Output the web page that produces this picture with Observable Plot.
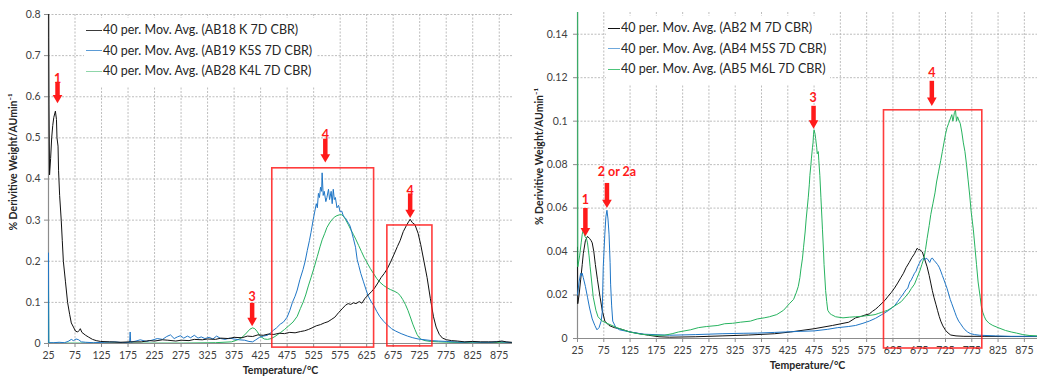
<!DOCTYPE html>
<html>
<head>
<meta charset="utf-8">
<script src="https://cdn.jsdelivr.net/npm/d3@7"></script>
<script src="https://cdn.jsdelivr.net/npm/@observablehq/plot@0.6"></script>
<style>
  html, body { margin: 0; padding: 0; background: #fff; overflow: hidden; }
  #wrap { position: relative; width: 1037px; height: 381px; overflow: hidden; }
  .panel { position: absolute; top: 0; height: 381px; }
  .panel svg { max-width: none !important; display: block; }
  .legend { position: absolute; background: #fff; font-family: Lato, "Open Sans", sans-serif; font-size: 12.5px; color: #262626; padding: 2px 4px 4px 2px; }
  .legend .row { height: 20.5px; line-height: 20.5px; white-space: nowrap; display: flex; align-items: center; }
  .legend .sw { display: inline-block; height: 1.2px; margin-right: 1px; }
</style>
</head>
<body>
<div id="wrap"></div>
<script>
// ---------- ticks ----------
const xTicks = [25, 75, 125, 175, 225, 275, 325, 375, 425, 475, 525, 575, 625, 675, 725, 775, 825, 875];
const yTicksLeft = [0, 0.1, 0.2, 0.3, 0.4, 0.5, 0.6, 0.7, 0.8];
const yTicksRight = [0, 0.02, 0.04, 0.06, 0.08, 0.1, 0.12, 0.14];

// ---------- left panel series [temperature °C, % derivative weight] ----------
const ab18K = [[25,1.2],[25.5,0.745],[26,0.58],[27,0.41],[29,0.45],[31,0.5],[33,0.53],[35,0.55],[38,0.565],[40,0.545],[41,0.5],[42,0.49],[43,0.48],[44,0.42],[46,0.36],[49,0.3],[51,0.25],[53,0.2],[57,0.15],[61,0.1],[65,0.07],[68,0.05],[72,0.04],[76,0.03],[80,0.028],[83,0.032],[85,0.036],[88,0.027],[95,0.02],[100,0.016],[108,0.01],[115,0.007],[123,0.005],[140,0.004],[160,0.003],[180,0.004],[200,0.004],[215,0.007],[225,0.006],[240,0.009],[250,0.008],[265,0.006],[275,0.008],[290,0.007],[300,0.01],[315,0.009],[325,0.011],[340,0.01],[350,0.013],[365,0.012],[375,0.015],[390,0.014],[400,0.018],[410,0.017],[420,0.021],[430,0.02],[440,0.023],[450,0.022],[460,0.025],[470,0.024],[480,0.027],[490,0.026],[500,0.029],[508,0.031],[515,0.034],[522,0.038],[530,0.043],[538,0.046],[545,0.05],[552,0.053],[558,0.058],[565,0.064],[572,0.075],[580,0.086],[585,0.093],[590,0.097],[595,0.095],[600,0.099],[605,0.097],[611,0.102],[616,0.098],[622,0.11],[628,0.118],[634,0.126],[640,0.135],[646,0.147],[652,0.16],[658,0.17],[664,0.182],[670,0.198],[676,0.215],[683,0.236],[688,0.25],[694,0.272],[700,0.287],[704,0.296],[707,0.302],[711,0.294],[716,0.289],[722,0.268],[727,0.24],[733,0.2],[739,0.16],[745,0.11],[751,0.065],[756,0.04],[762,0.022],[768,0.013],[776,0.009],[785,0.007],[796,0.006],[810,0.004],[825,0.005],[840,0.004],[855,0.004],[870,0.004],[880,0.006],[888,0.004],[898,0.003]];

const ab19K5S = [[25,0.22],[25.5,0.002],[35,0.002],[45,0.003],[55,0.002],[62,0.005],[68,0.01],[72,0.007],[77,0.011],[82,0.009],[87,0.004],[95,0.003],[110,0.002],[130,0.003],[150,0.004],[165,0.002],[178,0.003],[179,0.028],[180,0.003],[190,0.006],[198,0.009],[210,0.005],[220,0.008],[230,0.012],[240,0.01],[248,0.017],[255,0.021],[262,0.012],[268,0.016],[274,0.019],[280,0.013],[287,0.018],[293,0.014],[300,0.02],[307,0.013],[313,0.016],[320,0.012],[328,0.015],[335,0.011],[342,0.018],[350,0.012],[358,0.01],[366,0.013],[375,0.011],[385,0.009],[395,0.008],[403,0.005],[410,0.004],[416,0.009],[423,0.015],[430,0.018],[438,0.02],[444,0.026],[449,0.032],[455,0.038],[462,0.047],[468,0.052],[475,0.064],[480,0.08],[485,0.1],[490,0.115],[494,0.13],[499,0.155],[505,0.18],[509,0.2],[513,0.226],[517,0.25],[520,0.27],[524,0.3],[527,0.32],[530,0.34],[532,0.33],[534,0.365],[536,0.355],[538,0.38],[540,0.37],[541,0.415],[543,0.36],[545,0.37],[548,0.345],[550,0.355],[553,0.375],[555,0.35],[558,0.37],[560,0.34],[562,0.375],[564,0.35],[566,0.355],[569,0.33],[572,0.336],[575,0.32],[578,0.322],[581,0.31],[585,0.305],[588,0.298],[591,0.292],[594,0.285],[597,0.27],[600,0.255],[604,0.234],[607,0.205],[610,0.19],[614,0.17],[619,0.15],[624,0.13],[628,0.115],[633,0.103],[638,0.093],[644,0.078],[650,0.065],[657,0.054],[664,0.045],[672,0.036],[680,0.03],[690,0.024],[702,0.018],[712,0.014],[722,0.011],[735,0.009],[748,0.007],[760,0.006],[775,0.005],[790,0.004],[805,0.003],[820,0.004],[840,0.003],[860,0.003],[872,0.005],[880,0.004],[890,0.003],[898,0.002]];

const ab28K4L = [[25,0.14],[25.5,0.001],[60,0.001],[120,0.001],[200,0.001],[280,0.001],[340,0.002],[370,0.004],[380,0.008],[388,0.013],[395,0.021],[400,0.028],[405,0.035],[410,0.038],[414,0.036],[418,0.03],[422,0.022],[426,0.016],[432,0.011],[438,0.01],[445,0.012],[452,0.017],[462,0.026],[470,0.034],[478,0.043],[486,0.052],[494,0.066],[500,0.085],[505,0.1],[510,0.118],[515,0.14],[520,0.16],[526,0.185],[532,0.212],[537,0.235],[541,0.252],[546,0.268],[550,0.282],[555,0.293],[560,0.302],[565,0.308],[569,0.311],[574,0.313],[578,0.313],[581,0.31],[585,0.302],[590,0.29],[595,0.277],[600,0.265],[605,0.252],[610,0.238],[615,0.224],[620,0.21],[626,0.196],[632,0.182],[638,0.17],[644,0.158],[650,0.149],[657,0.141],[664,0.135],[670,0.131],[676,0.128],[683,0.123],[688,0.117],[693,0.107],[698,0.095],[703,0.08],[708,0.062],[712,0.047],[716,0.034],[720,0.022],[724,0.014],[728,0.01],[735,0.007],[745,0.005],[760,0.004],[780,0.003],[820,0.002],[900,0.002]];

// ---------- right panel series ----------
const ab2M = [[25,0.042],[25.5,0.016],[28,0.02],[31,0.027],[34,0.034],[36,0.039],[40,0.045],[44,0.047],[48,0.046],[51,0.045],[53,0.044],[56,0.04],[59,0.034],[63,0.027],[68,0.019],[72,0.013],[77,0.008],[85,0.006],[95,0.005],[105,0.0045],[125,0.003],[143,0.0022],[160,0.0015],[180,0.0008],[200,0.0006],[250,0.0008],[300,0.0012],[350,0.0016],[400,0.0022],[430,0.003],[475,0.0045],[510,0.006],[541,0.0075],[554,0.0095],[565,0.0102],[572,0.0108],[580,0.0113],[586,0.0125],[592,0.0135],[598,0.0148],[604,0.0162],[610,0.0176],[616,0.0195],[622,0.0212],[628,0.0232],[634,0.0255],[640,0.028],[645,0.03],[650,0.0326],[656,0.035],[661,0.0372],[666,0.039],[669,0.0405],[671,0.0415],[674,0.0408],[676,0.041],[679,0.0402],[681,0.0398],[684,0.0375],[687,0.0352],[690,0.033],[694,0.029],[697,0.0255],[700,0.022],[703,0.019],[707,0.0155],[710,0.0128],[713,0.0102],[716,0.008],[720,0.0058],[725,0.0038],[730,0.0025],[735,0.0016],[745,0.0012],[760,0.001],[800,0.001],[850,0.0009],[900,0.0009]];

const ab4M5S = [[25,0.02],[28,0.026],[31,0.03],[33,0.029],[34,0.03],[36,0.028],[40,0.024],[44,0.019],[48,0.014],[53,0.009],[58,0.006],[62,0.004],[66,0.005],[70,0.008],[72,0.012],[74,0.033],[77,0.048],[79,0.056],[81,0.059],[83,0.055],[85,0.048],[87,0.035],[88,0.025],[90,0.015],[92,0.008],[98,0.005],[105,0.004],[125,0.003],[150,0.002],[200,0.0015],[250,0.0018],[300,0.0022],[340,0.0024],[367,0.0025],[400,0.0028],[420,0.003],[450,0.0033],[475,0.0035],[500,0.0042],[520,0.005],[540,0.0055],[554,0.006],[568,0.007],[580,0.008],[592,0.0093],[604,0.011],[616,0.0128],[628,0.015],[634,0.017],[640,0.019],[646,0.021],[650,0.0225],[653,0.023],[657,0.026],[660,0.027],[663,0.0285],[666,0.03],[669,0.031],[672,0.033],[675,0.0345],[678,0.036],[681,0.0365],[683,0.037],[686,0.0362],[688,0.037],[691,0.0365],[695,0.035],[698,0.0368],[700,0.037],[703,0.036],[706,0.0352],[710,0.034],[713,0.0328],[716,0.031],[719,0.029],[722,0.027],[725,0.025],[728,0.023],[731,0.0205],[734,0.018],[737,0.016],[740,0.014],[743,0.012],[746,0.01],[750,0.008],[753,0.007],[758,0.0052],[762,0.004],[767,0.003],[772,0.0023],[780,0.0018],[790,0.0015],[820,0.0012],[850,0.001],[880,0.001],[900,0.001]];

const ab5M6L = [[25,0.3],[25.6,0.033],[29,0.038],[32,0.044],[34,0.048],[36,0.05],[39,0.047],[42,0.046],[44,0.044],[47,0.038],[49,0.033],[52,0.026],[55,0.019],[60,0.013],[64,0.01],[72,0.008],[81,0.007],[100,0.005],[124,0.003],[145,0.002],[167,0.0015],[190,0.0015],[205,0.0022],[217,0.003],[240,0.004],[255,0.005],[270,0.0055],[292,0.006],[305,0.0068],[320,0.007],[335,0.0075],[354,0.008],[367,0.009],[380,0.0095],[390,0.01],[404,0.011],[417,0.013],[428,0.016],[436,0.018],[441,0.021],[445,0.024],[448,0.028],[450,0.032],[453,0.037],[455,0.042],[458,0.049],[460,0.055],[462,0.06],[464,0.065],[466,0.071],[467,0.075],[469,0.08],[470,0.083],[472,0.088],[473,0.09],[474,0.094],[475,0.096],[477,0.094],[478,0.092],[480,0.088],[481,0.085],[483,0.086],[484,0.082],[486,0.075],[488,0.065],[490,0.055],[491,0.05],[493,0.04],[494,0.034],[496,0.026],[497,0.022],[499,0.017],[501,0.013],[505,0.0115],[508,0.011],[516,0.01],[530,0.0095],[542,0.0098],[554,0.01],[565,0.0102],[575,0.0105],[583,0.0107],[591,0.011],[597,0.0115],[603,0.012],[609,0.0125],[615,0.013],[622,0.014],[628,0.015],[635,0.016],[641,0.017],[648,0.019],[655,0.021],[660,0.023],[666,0.025],[671,0.028],[676,0.031],[680,0.034],[684,0.037],[687,0.041],[690,0.046],[694,0.052],[697,0.057],[701,0.062],[705,0.067],[708,0.072],[712,0.077],[716,0.082],[719,0.086],[722,0.09],[725,0.094],[728,0.097],[731,0.099],[734,0.101],[737,0.103],[739,0.1],[740,0.101],[742,0.104],[744,0.105],[746,0.1],[748,0.102],[751,0.1],[753,0.099],[756,0.095],[759,0.09],[762,0.086],[765,0.08],[768,0.073],[771,0.066],[774,0.058],[778,0.05],[781,0.042],[784,0.034],[787,0.026],[791,0.019],[793,0.015],[796,0.012],[799,0.01],[802,0.0085],[808,0.007],[815,0.006],[825,0.005],[839,0.0037],[850,0.003],[860,0.0025],[872,0.0018],[884,0.0014],[900,0.0012]];

// ---------- legends ----------
const legendLeft = ["40 per. Mov. Avg. (AB18 K 7D CBR)", "40 per. Mov. Avg. (AB19 K5S 7D CBR)", "40 per. Mov. Avg. (AB28 K4L 7D CBR)"];
const legendRight = ["40 per. Mov. Avg. (AB2 M 7D CBR)", "40 per. Mov. Avg. (AB4 M5S 7D CBR)", "40 per. Mov. Avg. (AB5 M6L 7D CBR)"];

// ---------- annotations (data units) ----------
const labelsLeft = [{x: 42, y: 0.643, t: "1"}, {x: 547, y: 0.508, t: "4"}, {x: 707, y: 0.372, t: "4"}, {x: 409, y: 0.112, t: "3"}];
const arrowsLeft = [{x: 42, y1: 0.625, y2: 0.584}, {x: 547, y1: 0.487, y2: 0.44}, {x: 707, y1: 0.354, y2: 0.305}, {x: 409, y1: 0.088, y2: 0.042}];
const boxesLeft = [{x1: 447, x2: 639, y1: -0.01, y2: 0.426}, {x1: 664, x2: 749, y1: -0.007, y2: 0.287}];

const labelsRight = [{x: 40, y: 0.0635, t: "1"}, {x: 100, y: 0.0765, t: "2 or 2a"}, {x: 473, y: 0.1105, t: "3"}, {x: 699, y: 0.122, t: "4"}];
const arrowsRight = [{x: 40, y1: 0.058, y2: 0.047}, {x: 81, y1: 0.0695, y2: 0.06}, {x: 474, y1: 0.105, y2: 0.0965}, {x: 699, y1: 0.1165, y2: 0.107}];
const boxesRight = [{x1: 608, x2: 795, y1: -0.0046, y2: 0.105}];

// ---------- styling ----------
const colBlack = "#111111", colBlue = "#1f76c6", colGreen = "#27b35f";
const red = "#ff1a1a";
const font = "Lato, 'Open Sans', sans-serif";

function toRows(arr) { return arr.map(([x, y]) => ({x, y})); }

function panel(opts) {
  const {width, mL, mR, mT, mB, yDomain, yTicks, series, labels, arrows, boxes, yTitleDx, yTitleDy, yTickPad} = opts;
  return Plot.plot({
    width, height: 381,
    marginLeft: mL, marginRight: mR, marginTop: mT, marginBottom: mB,
    style: {fontFamily: font, fontSize: "10.5px", color: "#404040", background: "transparent"},
    x: {domain: [25, 900]},
    y: {domain: yDomain},
    marks: [
      Plot.gridX(xTicks.slice(1), {stroke: "#b5b5b5", strokeOpacity: 1, strokeDasharray: "2,1.5", strokeWidth: 0.9}),
      Plot.gridY(yTicks.slice(1), {stroke: "#b5b5b5", strokeOpacity: 1, strokeDasharray: "2,1.5", strokeWidth: 0.9}),
      Plot.axisX(xTicks, {tickSize: 4, tickPadding: 4, stroke: "#8c8c8c", label: null, fill: "#404040"}),
      Plot.axisY(yTicks, {tickSize: 4, tickPadding: yTickPad, stroke: "#8c8c8c", label: null, fill: "#404040",
        tickFormat: d => d === 0 ? "0" : String(+d.toFixed(2))}),
      Plot.ruleY([0], {stroke: "#8c8c8c", strokeWidth: 1.2}),
      Plot.ruleX([25], {stroke: "#8c8c8c", strokeWidth: 1.2}),
      ...series.map(s => Plot.line(toRows(s.data), {x: "x", y: "y", stroke: s.color, strokeWidth: s.w, clip: true})),
      Plot.rect(boxes, {x1: "x1", x2: "x2", y1: "y1", y2: "y2", fill: "none", stroke: red, strokeWidth: 1.6, strokeOpacity: 0.85}),
      Plot.ruleX(arrows, {x: "x", y1: "y1", y2: "y2", stroke: red, strokeWidth: 4.5, dy: -4}),
      Plot.dot(arrows, {x: "x", y: "y2", symbol: "triangle", rotate: 180, r: 3.6, fill: red, stroke: "none", dy: -5.6}),
      Plot.text(labels, {x: "x", y: "y", text: "t", fill: red, fontWeight: "bold", fontSize: 12.5}),
      Plot.text(["Temperature/°C"], {frameAnchor: "bottom", dy: 30, fontWeight: "bold", fontSize: 10.5, fill: "#262626"}),
      Plot.text(["% Derivitive Weight/AUmin⁻¹"], {frameAnchor: "left", textAnchor: "middle", rotate: -90, dx: yTitleDx, dy: yTitleDy, fontWeight: "bold", fontSize: 10.5, fill: "#262626"})
    ]
  });
}

const wrap = document.getElementById("wrap");

function addPanel(left, width, plotEl, legendTexts, legendColors, legendPos, swW) {
  const div = document.createElement("div");
  div.className = "panel";
  div.style.left = left + "px";
  div.style.width = width + "px";
  div.appendChild(plotEl);
  const lg = document.createElement("div");
  lg.className = "legend";
  lg.style.left = legendPos[0] + "px";
  lg.style.top = legendPos[1] + "px";
  legendTexts.forEach((t, i) => {
    const row = document.createElement("div");
    row.className = "row";
    const sw = document.createElement("span");
    sw.className = "sw";
    sw.style.width = swW + "px";
    sw.style.background = legendColors[i];
    row.appendChild(sw);
    row.appendChild(document.createTextNode(t));
    lg.appendChild(row);
  });
  div.appendChild(lg);
  wrap.appendChild(div);
}

const leftPlot = panel({
  width: 520, mL: 48, mR: 8, mT: 14, mB: 38,
  yDomain: [0, 0.8], yTicks: yTicksLeft, yTickPad: 4,
  series: [
    {data: ab28K4L, color: colGreen, w: 1},
    {data: ab19K5S, color: colBlue, w: 1},
    {data: ab18K, color: colBlack, w: 1}
  ],
  labels: labelsLeft, arrows: arrowsLeft, boxes: boxesLeft,
  yTitleDx: -35, yTitleDy: -17
});
addPanel(0, 520, leftPlot, legendLeft, ["#3a3a3a", "#5b9bd5", "#8fd6aa"], [84, 18], 16);

const rightPlot = panel({
  width: 517, mL: 57, mR: 0, mT: 12, mB: 43,
  yDomain: [0, 0.15], yTicks: yTicksRight, yTickPad: 6,
  series: [
    {data: ab2M, color: colBlack, w: 1},
    {data: ab4M5S, color: colBlue, w: 1},
    {data: ab5M6L, color: colGreen, w: 1}
  ],
  labels: labelsRight, arrows: arrowsRight, boxes: boxesRight,
  yTitleDx: -38, yTitleDy: -19
});
addPanel(520, 517, rightPlot, legendRight, ["#111111", "#6fa8dc", "#4cc47a"], [86, 16], 12);
</script>
</body>
</html>
